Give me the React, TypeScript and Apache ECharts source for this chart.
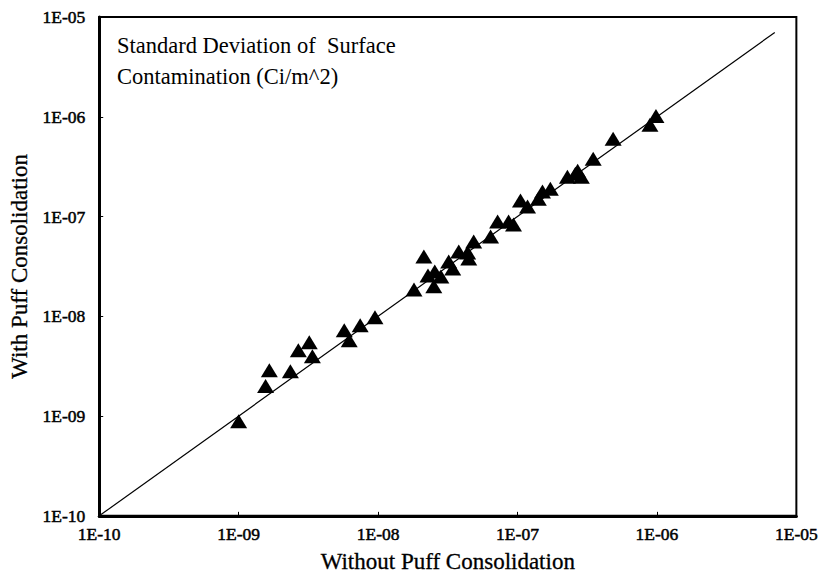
import React, { useEffect, useRef } from "react";
import * as echarts from "echarts";

// Tick labels for the decades 1E-10 .. 1E-05
const tickLabels = ["1E-10", "1E-09", "1E-08", "1E-07", "1E-06", "1E-05"];

// Without puff consolidation (x) values
const withoutPuff = [
  1.0e-9, 1.66e-9, 1.56e-9, 2.35e-9, 2.68e-9, 3.21e-9, 3.38e-9, 5.72e-9, 6.21e-9, 7.44e-9,
  9.5e-9, 1.81e-8, 2.13e-8, 2.28e-8, 2.55e-8, 2.51e-8, 2.82e-8, 3.21e-8, 3.43e-8, 3.79e-8,
  4.39e-8, 4.47e-8, 4.85e-8, 6.41e-8, 7.2e-8, 8.63e-8, 9.36e-8, 1.05e-7, 1.18e-7, 1.41e-7,
  1.51e-7, 1.72e-7, 2.28e-7, 2.6e-7, 2.87e-7, 2.7e-7, 3.49e-7, 4.85e-7, 8.91e-7, 9.84e-7,
];

// With puff consolidation (y) values
const withPuff = [
  8.9e-10, 2.88e-9, 2.0e-9, 2.82e-9, 4.57e-9, 5.5e-9, 3.98e-9, 7.24e-9, 5.75e-9, 8.13e-9,
  9.8e-9, 1.86e-8, 3.98e-8, 2.57e-8, 2.82e-8, 2.0e-8, 2.51e-8, 3.55e-8, 3.02e-8, 4.47e-8,
  4.37e-8, 3.8e-8, 5.62e-8, 6.31e-8, 8.9e-8, 8.9e-8, 8.3e-8, 1.45e-7, 1.26e-7, 1.51e-7,
  1.78e-7, 1.9e-7, 2.51e-7, 2.69e-7, 2.51e-7, 2.88e-7, 3.8e-7, 6.03e-7, 8.3e-7, 1.02e-6,
];

// 1:1 reference line end points
const lineX = [1e-10, 7e-6];
const lineY = [1e-10, 7e-6];

const titleLines = ["Standard Deviation of  Surface", "Contamination (Ci/m^2)"];

const FONT = "'Liberation Serif', 'Times New Roman', serif";

function fmt(v: number): string {
  const e = Math.round(Math.log10(v));
  const idx = e + 10;
  return tickLabels[idx] ?? "";
}

export default function App() {
  const ref = useRef<HTMLDivElement>(null);
  useEffect(() => {
    if (!ref.current) return;
    const chart = echarts.init(ref.current, undefined, { renderer: "svg" });
    const labelStyle = {
      formatter: fmt,
      fontFamily: FONT,
      fontSize: 17.5,
      color: "#000",
      textBorderColor: "#000",
      textBorderWidth: 0.5,
    };
    const nameStyle = {
      fontFamily: FONT,
      fontSize: 23,
      color: "#000",
      textBorderColor: "#000",
      textBorderWidth: 0.3,
    };
    const axisCommon = {
      type: "log" as const,
      logBase: 10,
      min: 1e-10,
      max: 1e-5,
      nameLocation: "middle" as const,
      nameTextStyle: nameStyle,
      axisLine: { show: true, lineStyle: { color: "#000", width: 3 } },
      axisTick: { show: true, inside: true, length: 4, lineStyle: { color: "#000", width: 1 } },
      minorTick: { show: false },
      splitLine: { show: false },
    };
    chart.setOption({
      animation: false,
      backgroundColor: "#fff",
      grid: {
        left: 97,
        right: 24,
        top: 17,
        bottom: 60,
        show: true,
        borderColor: "#000",
        borderWidth: 2,
        containLabel: false,
      },
      xAxis: {
        ...axisCommon,
        name: "Without Puff Consolidation",
        nameGap: 34,
        axisLabel: { ...labelStyle, margin: 9 },
      },
      yAxis: {
        ...axisCommon,
        name: "With Puff Consolidation",
        nameGap: 61,
        axisLabel: { ...labelStyle, margin: 14 },
      },
      graphic: titleLines.map((t, i) => ({
        type: "text",
        left: 117,
        top: 34 + i * 31,
        style: { text: t, fontFamily: FONT, fontSize: 22.5, fill: "#000" },
      })),
      series: [
        {
          type: "line",
          data: lineX.map((x, i) => [x, lineY[i]]),
          showSymbol: false,
          symbol: "none",
          lineStyle: { color: "#000", width: 1.2 },
          silent: true,
          z: 1,
        },
        {
          type: "scatter",
          data: withoutPuff.map((x, i) => [x, withPuff[i]]),
          symbol: "triangle",
          symbolSize: [17, 14],
          itemStyle: { color: "#000", opacity: 1 },
          z: 2,
        },
      ],
    });
    return () => chart.dispose();
  }, []);
  return (
    <div
      ref={ref}
      style={{ position: "fixed", left: 0, top: 0, width: 821, height: 578 }}
    />
  );
}
